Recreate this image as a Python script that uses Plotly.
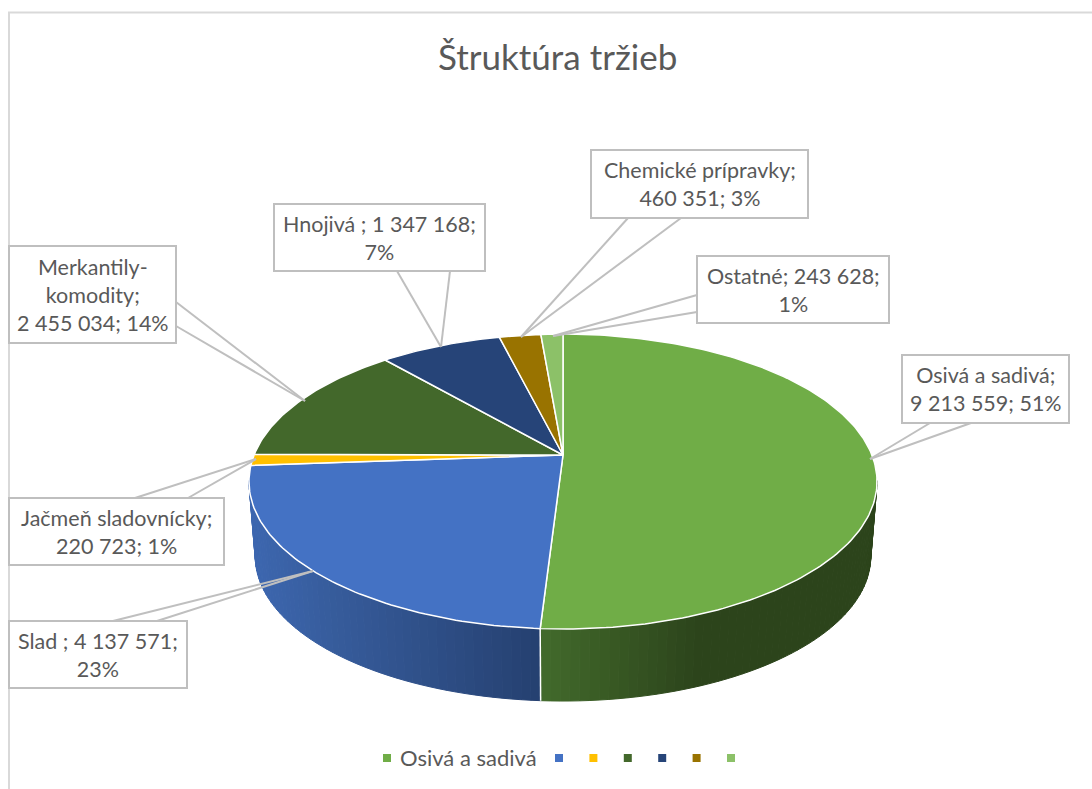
import numpy as np
import plotly.graph_objects as go

# ---- data ----
TITLE = "Štruktúra tržieb"
categories = ["Osivá a sadivá", "Slad", "Jačmeň sladovnícky", "Merkantily-komodity",
              "Hnojivá", "Chemické prípravky", "Ostatné"]
values = [9213559, 4137571, 220723, 2455034, 1347168, 460351, 243628]
colors = ["#70ad47", "#4472c4", "#ffc000", "#43682b", "#264478", "#997300", "#8cc168"]
label_templates = [
    "Osivá a sadivá;<br>{v}; {p}%",
    "Slad ; {v};<br>{p}%",
    "Jačmeň sladovnícky;<br>{v}; {p}%",
    "Merkantily-<br>komodity;<br>{v}; {p}%",
    "Hnojivá ; {v};<br>{p}%",
    "Chemické prípravky;<br>{v}; {p}%",
    "Ostatné; {v};<br>{p}%",
]
# label box (x0, y0, x1, y1) and callout base/tip, in page pixels
boxes = [(902, 355, 1069, 423), (9, 621, 187, 688), (9, 498, 224, 565), (9, 246, 176, 343),
         (274, 204, 485, 271), (591, 150, 808, 218), (697, 256, 889, 323)]
callouts = [((930, 423), (971, 423), (870, 459)), ((113, 621), (157, 621), (313, 571)),
            ((135, 498), (188, 498), (256, 459)), ((176, 302), (176, 326), (305, 401)),
            ((397, 271), (450, 271), (441, 347)), ((628, 218), (681, 218), (521, 337)),
            ((697, 295), (697, 312), (553, 336))]

# ---- geometry of the tilted disc ----
CX, CY, A, B, K = 563.0, 455.0, 308.9, 142.7, 0.18
CY_LOW, S_LOW = 530.5, 0.98
GREY, TXT = "#bfbfbf", "#595959"
FONT = "Lato"


def project(theta, low=False):
    u, v = np.sin(theta), np.cos(theta)
    s, cy = (S_LOW, CY_LOW) if low else (1.0, CY)
    d = 1 + K * v
    return CX + s * A * u / d, cy - s * B * v / d


def mix(stops, x):
    xs = [p[0] for p in stops]
    ch = [np.interp(x, xs, [int(p[1][i:i + 2], 16) for p in stops]) for i in (1, 3, 5)]
    return "rgb(%d,%d,%d)" % tuple(round(float(c)) for c in ch)


vals = np.array(values, dtype=float)
edges = np.concatenate([[0], np.cumsum(vals)]) / vals.sum() * 2 * np.pi
fig = go.Figure()

# side wall, drawn as thin strips for the horizontal shading
wall_shades = {
    0: [(541, "#426a2b"), (697, "#2c441b"), (880, "#2c441b")],
    1: [(250, "#3d67b0"), (340, "#365b9a"), (541, "#254070")],
}
wall_limits = {0: (np.radians(100), edges[1]), 1: (edges[1], np.radians(260))}
for idx, (t0, t1) in wall_limits.items():
    n = int(np.degrees(t1 - t0) / 1.5)
    grid = np.linspace(t0, t1, n + 1)
    for a, b in zip(grid[:-1], grid[1:]):
        tt = np.array([a, b])
        xt, yt = project(tt)
        xl, yl = project(tt, low=True)
        col = mix(wall_shades[idx], float((xt.mean() + xl.mean()) / 2))
        fig.add_trace(go.Scatter(
            x=[*xt, *xl[::-1], xt[0]], y=[*yt, *yl[::-1], yt[0]],
            mode="lines", fill="toself", fillcolor=col,
            line=dict(color=col, width=1), hoverinfo="skip", showlegend=False))

# white seam between the two visible wall pieces
sx0, sy0 = project(edges[1])
sx1, sy1 = project(edges[1], low=True)
fig.add_trace(go.Scatter(x=[float(sx0), float(sx1)], y=[float(sy0), float(sy1)], mode="lines",
                         line=dict(color="white", width=1.5), hoverinfo="skip", showlegend=False))

# top face wedges
for i, name in enumerate(categories):
    th = np.linspace(edges[i], edges[i + 1], max(int(np.degrees(edges[i + 1] - edges[i])), 4))
    x, y = project(th)
    fig.add_trace(go.Scatter(
        x=[CX, *x, CX], y=[CY, *y, CY], mode="lines", fill="toself",
        fillcolor=colors[i], line=dict(color="white", width=1.5),
        name=name, hoverinfo="name", showlegend=False))

# legend key
KEY_X0, KEY_STEP, KEY_Y = 559.0, 34.4, 758
key_x = [387.0] + [KEY_X0 + KEY_STEP * i for i in range(len(categories) - 1)]
fig.add_trace(go.Scatter(x=key_x, y=[KEY_Y] * len(key_x), mode="markers",
                         marker=dict(symbol="square", size=8, color=colors),
                         hoverinfo="skip", showlegend=False))

shapes = [
    dict(type="line", x0=9, x1=9, y0=12, y1=789, line=dict(color="#d9d9d9", width=2), layer="below"),
    dict(type="line", x0=8, x1=1092, y0=12.5, y1=12.5, line=dict(color="#d9d9d9", width=2), layer="below"),
]
annotations = [
    dict(x=557, y=55.5, text=TITLE, showarrow=False, xanchor="center", yanchor="middle",
         font=dict(family=FONT, size=35, color=TXT)),
    dict(x=398, y=757.5, text=categories[0], showarrow=False, xanchor="left", yanchor="middle",
         font=dict(family=FONT, size=22, color=TXT)),
]
for i, tpl in enumerate(label_templates):
    (p, q, tip) = callouts[i]
    for base in (p, q):
        shapes.append(dict(type="line", x0=base[0], y0=base[1], x1=tip[0], y1=tip[1],
                           line=dict(color=GREY, width=2), layer="above"))
    x0, y0, x1, y1 = boxes[i]
    shapes.append(dict(type="rect", x0=x0, y0=y0, x1=x1, y1=y1, fillcolor="white",
                       line=dict(color=GREY, width=2), layer="above"))
    txt = tpl.format(v=f"{values[i]:,}".replace(",", " "), p=round(values[i] / vals.sum() * 100))
    annotations.append(dict(x=(x0 + x1) / 2, y=(y0 + y1) / 2, text=txt, showarrow=False,
                            xanchor="center", yanchor="middle", align="center",
                            font=dict(family=FONT, size=21.5, color=TXT)))

fig.update_layout(
    width=1092, height=789, margin=dict(l=0, r=0, t=0, b=0),
    paper_bgcolor="white", plot_bgcolor="white", showlegend=False,
    xaxis=dict(range=[0, 1092], visible=False, fixedrange=True),
    yaxis=dict(range=[789, 0], visible=False, fixedrange=True),
    shapes=shapes, annotations=annotations,
)
fig.write_html("out.html", config={"displayModeBar": False},
               post_script="document.body.style.margin='0';document.body.style.overflow='hidden';")
